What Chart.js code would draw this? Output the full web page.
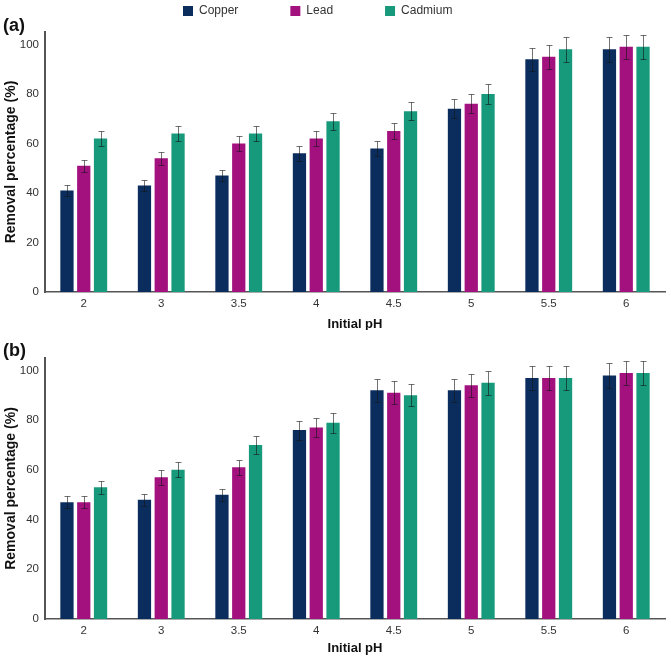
<!DOCTYPE html>
<html><head><meta charset="utf-8">
<script src="https://cdn.jsdelivr.net/npm/chart.js@4.4.0/dist/chart.umd.min.js"></script>
<style>
html,body{margin:0;padding:0;background:#fff;}
#wrap{width:671px;height:661px;position:relative;overflow:hidden;}
.box{position:absolute;left:0;width:671px;}
canvas{display:block;}
</style></head><body>
<div id="wrap">
<div class="box" style="top:0;height:330px"><canvas id="ca" width="671" height="330"></canvas></div>
<div class="box" style="top:330px;height:331px"><canvas id="cb" width="671" height="331"></canvas></div>
</div>
<script>
// ---- data ----
const categories = ['2', '3', '3.5', '4', '4.5', '5', '5.5', '6'];
const seriesNames = ['Copper', 'Lead', 'Cadmium'];
const yTicks = [0, 20, 40, 60, 80, 100];

// panel (a)
const copperA = [41, 43, 47, 56, 58, 74, 94, 98];
const leadA = [51, 54, 60, 62, 65, 76, 95, 99];
const cadmiumA = [62, 64, 64, 69, 73, 80, 98, 99];
const copperErrA = [2.2, 2.2, 2.3, 2.9, 3.0, 3.8, 4.7, 5.0];
const leadErrA = [2.5, 2.6, 3.0, 3.1, 3.2, 3.8, 4.8, 4.9];
const cadmiumErrA = [3.2, 3.2, 3.2, 3.4, 3.6, 4.0, 5.0, 4.9];

// panel (b)
const copperB = [47, 48, 50, 76, 92, 92, 97, 98];
const leadB = [47, 57, 61, 77, 91, 94, 97, 99];
const cadmiumB = [53, 60, 70, 79, 90, 95, 97, 99];
const copperErrB = [2.4, 2.4, 2.5, 3.8, 4.6, 4.6, 4.9, 4.9];
const leadErrB = [2.4, 2.9, 3.1, 3.9, 4.6, 4.7, 4.9, 4.9];
const cadmiumErrB = [2.7, 3.0, 3.6, 4.0, 4.5, 4.8, 4.9, 4.9];

// ---- styles ----
const colors = ['#0b2d5e', '#a3117f', '#17997c'];
const FONT = '"Liberation Sans", Arial, sans-serif';
const axisColor = '#555555';

const errorBarPlugin = {
  id: 'errorBars',
  afterDatasetsDraw(chart) {
    const ctx = chart.ctx;
    const ys = chart.scales.y;
    chart.data.datasets.forEach((ds, di) => {
      const meta = chart.getDatasetMeta(di);
      meta.data.forEach((bar, i) => {
        const v = ds.data[i], e = ds.errors[i];
        const x = Math.round(bar.x) + 0.5;
        const yt = Math.round(ys.getPixelForValue(v + e)) + 0.5;
        const yb = Math.round(ys.getPixelForValue(v - e)) + 0.5;
        ctx.save();
        ctx.strokeStyle = 'rgba(20,20,20,0.6)';
        ctx.lineWidth = 1;
        ctx.beginPath();
        ctx.moveTo(x, yt); ctx.lineTo(x, yb);
        ctx.moveTo(x - 3, yt); ctx.lineTo(x + 3, yt);
        ctx.moveTo(x - 3, yb); ctx.lineTo(x + 3, yb);
        ctx.stroke();
        ctx.restore();
      });
    });
  }
};

const panelLabelPlugin = {
  id: 'panelLabel',
  afterDraw(chart, args, opts) {
    if (!opts || !opts.text) return;
    const ctx = chart.ctx;
    ctx.save();
    ctx.font = 'bold 18px ' + FONT;
    ctx.fillStyle = '#111';
    ctx.textAlign = 'left';
    ctx.textBaseline = 'middle';
    ctx.fillText(opts.text, opts.x, opts.y);
    ctx.restore();
  }
};

const legendPlacePlugin = {
  id: 'legendPlace',
  afterLayout(chart, args, opts) {
    const lg = chart.legend;
    if (!lg || !lg.options.display || !opts || opts.x === undefined) return;
    const pad = lg.options.labels.padding;
    lg.left = opts.x - pad;
    lg.right = chart.width;
    lg.top = opts.y - pad;
    lg.bottom = opts.y + 20;
    lg.width = lg.right - lg.left;
    lg.height = lg.bottom - lg.top;
  }
};

function makeChart(id, dataArrs, errArrs, cfg) {
  const datasets = seriesNames.map((name, k) => ({
    label: name,
    data: dataArrs[k],
    errors: errArrs[k],
    backgroundColor: colors[k],
    borderWidth: 0,
    categoryPercentage: 0.65,
    barPercentage: 0.79
  }));
  return new Chart(document.getElementById(id), {
    type: 'bar',
    data: { labels: categories, datasets },
    plugins: [errorBarPlugin, panelLabelPlugin, legendPlacePlugin],
    options: {
      responsive: false,
      devicePixelRatio: 1,
      animation: false,
      layout: { padding: { top: cfg.top, right: 6, left: 0, bottom: 0 } },
      plugins: {
        tooltip: { enabled: false },
        legend: {
          display: cfg.legend,
          position: 'top',
          align: 'start',
          maxHeight: 0.01,
          labels: {
            boxWidth: 10, boxHeight: 10, padding: 52,
            color: '#333', font: { family: FONT, size: 12 }
          }
        },
        legendPlace: cfg.legend ? { x: 183, y: 5 } : {},
        panelLabel: { text: cfg.label, x: 3, y: cfg.labelY }
      },
      scales: {
        x: {
          grid: { display: false, drawTicks: false },
          border: { display: true, color: axisColor, width: 1.5 },
          ticks: { color: '#333', padding: 5, font: { family: FONT, size: 11.5 } },
          title: {
            display: true, text: 'Initial pH', color: '#111',
            font: { family: FONT, size: 13, weight: 'bold' },
            padding: { top: 0, bottom: cfg.xTitlePad }
          },
          afterFit(s) { s.height = cfg.xHeight; }
        },
        y: {
          min: 0, max: 105,
          grid: { display: false, drawTicks: false },
          border: { display: true, color: axisColor, width: 2 },
          ticks: {
            stepSize: 20, includeBounds: false, color: '#333', padding: 6,
            font: { family: FONT, size: 11.5 },
            callback: (v) => yTicks.includes(v) ? String(v) : ''
          },
          title: {
            display: true, text: 'Removal percentage (%)', color: '#111',
            font: { family: FONT, size: 14, weight: 'bold' },
            padding: { top: 3, bottom: 0 }
          },
          afterFit(s) { s.width = 45; }
        }
      }
    }
  });
}

makeChart('ca', [copperA, leadA, cadmiumA], [copperErrA, leadErrA, cadmiumErrA],
  { top: 32, legend: true, label: '(a)', labelY: 26, xHeight: 38, xTitlePad: -2.5 });
makeChart('cb', [copperB, leadB, cadmiumB], [copperErrB, leadErrB, cadmiumErrB],
  { top: 28, legend: false, label: '(b)', labelY: 21, xHeight: 42, xTitlePad: 4.5 });
</script>
</body></html>
